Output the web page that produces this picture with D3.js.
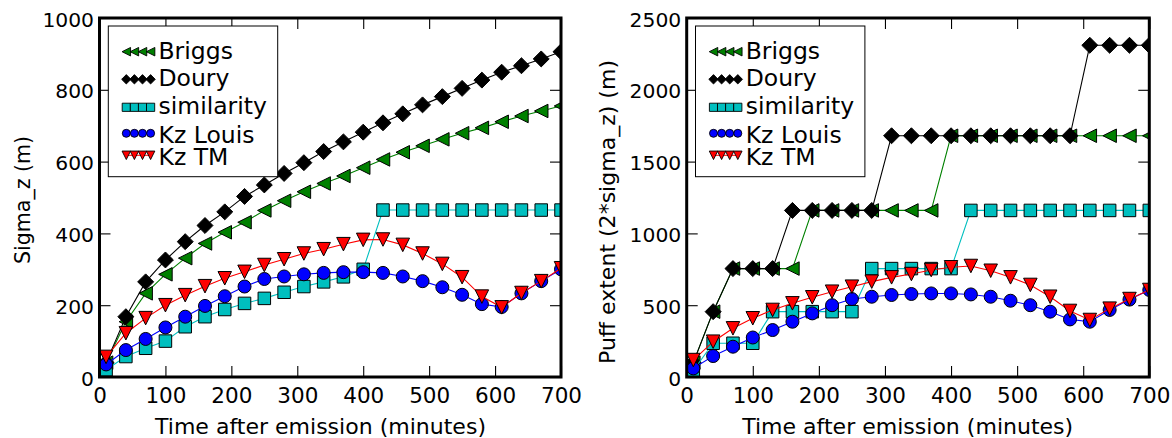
<!DOCTYPE html>
<html><head><meta charset="utf-8">
<script src="https://cdn.jsdelivr.net/npm/d3@7"></script>
<style>body{margin:0;background:#fff} svg{display:block}</style>
</head><body><svg id="c" width="1172" height="438"></svg>
<script>
// ---------------- data ----------------
const minutes = [10,40,70,100,130,160,190,220,250,280,310,340,370,400,430,460,490,520,550,580,610,640,670,700];
const seriesNames = ["Briggs","Doury","similarity","Kz Louis","Kz TM"];
// left panel: Sigma_z (m)
const sigmaBriggs     = [40,154,233,286,331,372,403,431,464,491,516,539,560,583,606,626,644,662,679,694,711,727,741,755];
const sigmaDoury      = [40,168,265,326,377,422,460,503,535,567,597,628,655,682,708,733,758,781,804,827,849,867,886,906];
const sigmaSimilarity = [20,57,80,100,140,168,188,205,219,236,252,265,279,300,465,465,465,465,465,465,465,465,465,465];
const sigmaKzLouis    = [35,75,106,138,168,198,225,252,273,280,286,290,292,292,290,280,267,250,229,203,195,233,267,300];
const sigmaKzTM       = [56,122,164,200,228,253,275,293,312,328,344,356,370,382,383,368,344,315,278,224,194,234,267,303];
// right panel: Puff extent (2*sigma_z) (m)
const puffBriggs     = [100,455,755,755,755,755,1160,1160,1160,1160,1160,1160,1160,1680,1680,1680,1680,1680,1680,1680,1680,1680,1680,1680];
const puffDoury      = [100,455,755,755,755,1160,1160,1160,1160,1160,1680,1680,1680,1680,1680,1680,1680,1680,1680,1680,2310,2310,2310,2310];
const puffSimilarity = [45,235,235,235,455,455,455,455,455,755,755,755,755,755,1160,1160,1160,1160,1160,1160,1160,1160,1160,1160];
const puffKzLouis    = [60,146,211,275,327,385,443,500,543,559,571,578,582,582,575,559,531,500,455,401,385,467,539,606];
const puffKzTM       = [118,246,339,409,467,513,555,594,629,664,694,717,745,764,773,740,694,641,559,460,397,476,543,606];
// ticks
const xTicks = [0,100,200,300,400,500,600,700];
const yTicksLeft = [0,200,400,600,800,1000];
const yTicksRight = [0,500,1000,1500,2000,2500];
const xLabel = "Time after emission (minutes)";
const yLabelLeft = "Sigma_z (m)";
const yLabelRight = "Puff extent (2*sigma_z) (m)";

// ---------------- styles ----------------
const FONT = "'DejaVu Sans', 'Bitstream Vera Sans', sans-serif";
const colors = {"Briggs":"#008000","Doury":"#000000","similarity":"#00bfbf","Kz Louis":"#0000ff","Kz TM":"#ff0000"};
const shapes = {"Briggs":"triLeft","Doury":"diamond","similarity":"square","Kz Louis":"circle","Kz TM":"triDown"};

function markerPath(shape, s){
  const h = s/2;
  switch(shape){
    case "triLeft": return `M${-h},0L${h},${-h}L${h},${h}Z`;
    case "triDown": return `M0,${h}L${-h},${-h}L${h},${-h}Z`;
    case "diamond": { const d = s*0.6; return `M0,${-d}L${d},0L0,${d}L${-d},0Z`; }
    case "square":  return `M${-h},${-h}h${s}v${s}h${-s}Z`;
    case "circle":  return `M${h},0A${h},${h} 0 1,1 ${-h},0A${h},${h} 0 1,1 ${h},0Z`;
  }
}
const bigSize = {"triLeft":13.5,"triDown":13.5,"diamond":13.3,"square":12.5,"circle":13};
const smallSize = {"triLeft":8.5,"triDown":8.5,"diamond":7.8,"square":8.2,"circle":8};

const svg = d3.select("#c");
svg.append("rect").attr("width",1172).attr("height",438).attr("fill","#fff");

function panel(cfg){
  const {x0,x1,y0,y1,yMax,yTicks,data,ylabel,yLabelX,yLabelStart,yLabelLen,id} = cfg;
  const x = d3.scaleLinear().domain([0,700]).range([x0,x1]);
  const y = d3.scaleLinear().domain([0,yMax]).range([y1,y0]);
  const g = svg.append("g");

  const clipId = "clip"+id;
  svg.append("clipPath").attr("id",clipId).append("rect")
    .attr("x",x0).attr("y",y0).attr("width",x1-x0).attr("height",y1-y0);

  // ticks (inward, all 4 sides)
  const tickLen = 11;
  const styleAxis = sel => { sel.select(".domain").remove(); sel.selectAll(".tick line").attr("stroke","#000").attr("stroke-width",1.1); };
  g.append("g").attr("transform",`translate(0,${y1})`)
    .call(d3.axisBottom(x).tickValues(xTicks).tickSizeInner(-tickLen).tickSizeOuter(0).tickFormat(d3.format("d")))
    .call(styleAxis)
    .call(s=>s.selectAll("text").attr("y",26).attr("dy",null).attr("fill","#000")
      .style("font-family",FONT).style("font-size","21.5px"));
  g.append("g").attr("transform",`translate(0,${y0})`)
    .call(d3.axisTop(x).tickValues(xTicks).tickSizeInner(-tickLen).tickSizeOuter(0).tickFormat(""))
    .call(styleAxis);
  g.append("g").attr("transform",`translate(${x0},0)`)
    .call(d3.axisLeft(y).tickValues(yTicks).tickSizeInner(-tickLen).tickSizeOuter(0).tickFormat(d3.format("d")))
    .call(styleAxis)
    .call(s=>s.selectAll("text").attr("x",-5.5).attr("dy",8).attr("fill","#000")
      .style("font-family",FONT).style("font-size","20.3px"));
  g.append("g").attr("transform",`translate(${x1},0)`)
    .call(d3.axisRight(y).tickValues(yTicks).tickSizeInner(-tickLen).tickSizeOuter(0).tickFormat(""))
    .call(styleAxis);

  // series
  const plot = g.append("g").attr("clip-path",`url(#${clipId})`);
  seriesNames.forEach((name,i)=>{
    const vals = data[i];
    const pts = minutes.map((m,k)=>[m,vals[k]]);
    const sg = plot.append("g");
    sg.append("path").attr("d", d3.line().x(d=>x(d[0])).y(d=>y(d[1]))(pts))
      .attr("fill","none").attr("stroke",colors[name]).attr("stroke-width",1.1);
    const shp = shapes[name];
    sg.selectAll("path.m").data(pts).join("path").attr("class","m")
      .attr("transform",d=>`translate(${x(d[0])},${y(d[1])})`)
      .attr("d",markerPath(shp,bigSize[shp]))
      .attr("fill",colors[name]).attr("stroke","#000").attr("stroke-width",1);
  });

  // frame
  g.append("rect").attr("x",x0).attr("y",y0).attr("width",x1-x0).attr("height",y1-y0)
    .attr("fill","none").attr("stroke","#000").attr("stroke-width",3);

  // legend
  const lx = x0+8.8, ly = 26, lw = 169.4, lh = 150.7;
  const lg = g.append("g");
  lg.append("rect").attr("x",lx).attr("y",ly).attr("width",lw).attr("height",lh)
    .attr("fill","#fff").attr("stroke","#000").attr("stroke-width",1);
  const rowMarkerY = [51.7,79.3,107.3,133.3,155.3];
  const rowTextY = [58.5,86,113.5,143.3,165];
  const mxs = [0,8.1,16.2,24.3].map(d=>x0+26.8+d);
  seriesNames.forEach((name,i)=>{
    const shp = shapes[name];
    lg.append("line").attr("x1",mxs[0]).attr("x2",mxs[3]).attr("y1",rowMarkerY[i]).attr("y2",rowMarkerY[i])
      .attr("stroke",colors[name]).attr("stroke-width",1);
    mxs.forEach(mx=>{
      lg.append("path").attr("transform",`translate(${mx},${rowMarkerY[i]})`)
        .attr("d",markerPath(shp,smallSize[shp]))
        .attr("fill",colors[name]).attr("stroke","#000").attr("stroke-width",0.9);
    });
    lg.append("text").attr("x",x0+59).attr("y",rowTextY[i]).text(name)
      .style("font-family",FONT).style("font-size","23.5px").attr("fill","#000");
  });

  // axis labels
  g.append("text").attr("x",x0+55.5).attr("y",434).text(xLabel)
    .attr("textLength",331).attr("lengthAdjust","spacingAndGlyphs")
    .style("font-family",FONT).style("font-size","21.5px").attr("fill","#000");
  g.append("text").attr("transform",`translate(${yLabelX},${yLabelStart}) rotate(-90)`).text(ylabel)
    .attr("textLength",yLabelLen).attr("lengthAdjust","spacingAndGlyphs")
    .style("font-family",FONT).style("font-size","21.5px").attr("fill","#000");
}

panel({id:"L",x0:99.5,x1:561,y0:18,y1:377,yMax:1000,yTicks:yTicksLeft,
  data:[sigmaBriggs,sigmaDoury,sigmaSimilarity,sigmaKzLouis,sigmaKzTM],
  ylabel:yLabelLeft,yLabelX:29.5,yLabelStart:264,yLabelLen:128});
panel({id:"R",x0:686.7,x1:1149.3,y0:18,y1:377,yMax:2500,yTicks:yTicksRight,
  data:[puffBriggs,puffDoury,puffSimilarity,puffKzLouis,puffKzTM],
  ylabel:yLabelRight,yLabelX:615,yLabelStart:364,yLabelLen:304});
</script>
</body></html>
